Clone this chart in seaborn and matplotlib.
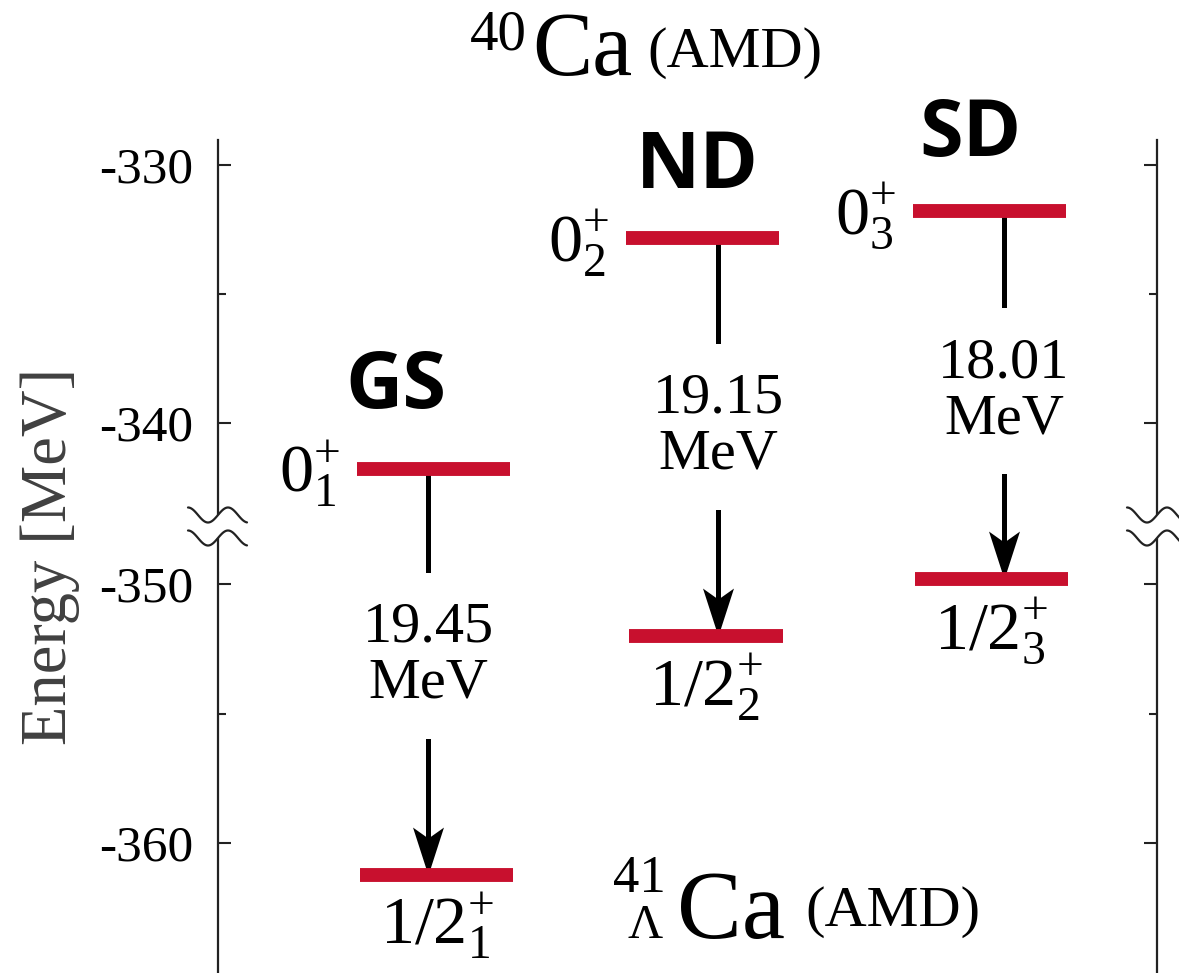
import numpy as np
import pandas as pd
import matplotlib
matplotlib.use("Agg")
import matplotlib.pyplot as plt
import seaborn as sns
from matplotlib.path import Path
from matplotlib.lines import Line2D
from matplotlib.patches import Rectangle
from matplotlib.transforms import IdentityTransform
from matplotlib.ticker import FixedLocator, StrMethodFormatter

# ---------------- data ----------------
configs = ["GS", "ND", "SD"]
core_spin = ["0", "0", "0"]
core_index = ["1", "2", "3"]
core_energy = [-341.78, -332.84, -331.80]      # 40Ca (AMD) [MeV]
hyper_spin = ["1/2", "1/2", "1/2"]
hyper_index = ["1", "2", "3"]
hyper_energy = [-361.23, -351.99, -349.81]     # 41_Lambda Ca (AMD) [MeV]
parity = "+"

major_ticks = [-330, -340, -350, -360]
minor_ticks = [-335, -355]

# ---------------- layout ----------------
W, H = 1179, 973
col_x_up = [0.2295, 0.5160, 0.8216]   # axes-fraction centres of the 40Ca levels
col_x_lo = [0.2327, 0.5197, 0.8237]   # centres of the hypernuclear levels
arrow_x = [0.2236, 0.5325, 0.8370]
label_lift = [16, 10, 4]              # px shift of the transition labels
BAR_HALF = 0.0815
RED = "#C8102E"
SERIF = ["Liberation Serif", "DejaVu Serif"]
BOLD = ["Open Sans", "DejaVu Sans"]

# broken energy axis: the window between these two values is cut out
BREAK_HI, BREAK_LO = -344.0, -347.77
GAP = BREAK_HI - BREAK_LO


def fwd(y):
    y = np.asarray(y, dtype=float)
    return np.where(y >= BREAK_HI, y, np.where(y <= BREAK_LO, y + GAP, BREAK_HI))


def inv(v):
    v = np.asarray(v, dtype=float)
    return np.where(v >= BREAK_HI, v, v - GAP)


sns.set_theme(style="ticks")
plt.rcParams.update({
    "font.family": SERIF,
    "axes.unicode_minus": False,
    "text.color": "black",
    "axes.labelcolor": "black",
    "ytick.color": "black",
    "ytick.labelcolor": "black",
    "mathtext.fontset": "custom",
    "mathtext.rm": "Liberation Serif",
    "mathtext.it": "Liberation Serif:italic",
    "mathtext.bf": "Liberation Serif:bold",
})

fig = plt.figure(figsize=(W / 100, H / 100), dpi=100)
fig.patch.set_facecolor("white")
ax = fig.add_axes([218 / W, 1 - 976 / H, 939 / W, 836 / H])
ax.set_facecolor("white")
ID = IdentityTransform()

# level bars
rows = []
for i, name in enumerate(configs):
    for tag, xc, e in (("core", col_x_up[i], core_energy[i]),
                       ("hyper", col_x_lo[i], hyper_energy[i])):
        for xx in (xc - BAR_HALF, xc + BAR_HALF):
            rows.append({"level": f"{name}-{tag}", "x": xx, "E": e})
levels = pd.DataFrame(rows)
sns.lineplot(data=levels, x="x", y="E", units="level", estimator=None,
             sort=False, color=RED, lw=10, solid_capstyle="butt",
             ax=ax, zorder=4, legend=False)

ax.set_yscale("function", functions=(fwd, inv))
ax.set_ylim(-365.15, -329.05)
ax.set_xlim(0, 1)
ax.set_xlabel("")
ax.set_ylabel("")
ax.set_xticks([])

ax.yaxis.set_major_locator(FixedLocator(major_ticks))
ax.yaxis.set_minor_locator(FixedLocator(minor_ticks))
ax.yaxis.set_major_formatter(StrMethodFormatter("{x:.0f}"))
ax.tick_params(axis="y", which="both", direction="in", left=True, right=True,
               labelleft=True, labelright=False, width=1.5, color="#222222",
               labelsize=37, pad=18, labelcolor="black")
ax.tick_params(axis="y", which="major", length=9.4)
ax.tick_params(axis="y", which="minor", length=5.8)
for t in ax.get_yticklabels():
    t.set_family(SERIF)
for side in ("top", "bottom"):
    ax.spines[side].set_visible(False)
for side in ("left", "right"):
    ax.spines[side].set_linewidth(1.6)
    ax.spines[side].set_color("#222222")

# arrows: shaft + concave head marker pointing down
head = Path([(0, 0), (-15.5, 48), (0, 37), (15.5, 48), (0, 0)],
            [Path.MOVETO, Path.LINETO, Path.LINETO, Path.LINETO, Path.CLOSEPOLY])
for i in range(len(configs)):
    ax.plot([arrow_x[i], arrow_x[i]], [core_energy[i], hyper_energy[i]],
            color="black", lw=3.6, solid_capstyle="butt", zorder=2)
    ax.plot([arrow_x[i]], [hyper_energy[i]], marker=head, markersize=69,
            color="black", markeredgewidth=0, zorder=3, linestyle="none")


def disp(x, e):
    return ax.transData.transform((x, e))


# transition energies in a white box that breaks the shaft
for i in range(len(configs)):
    xd, yu = disp(arrow_x[i], core_energy[i])
    _, yl = disp(arrow_x[i], hyper_energy[i])
    fig.text(xd, (yu + yl) / 2 + label_lift[i],
             f"{core_energy[i] - hyper_energy[i]:.2f}\nMeV",
             transform=ID, ha="center", va="center", fontsize=42,
             family=SERIF, linespacing=1.1, zorder=5,
             bbox=dict(boxstyle="square,pad=0.5", fc="white", ec="none"))


def state_text(spin, idx):
    return rf"$\mathrm{{{spin}}}_{{\mathrm{{{idx}}}}}^{{\mathrm{{{parity}}}}}$"


for i in range(len(configs)):
    xl, yc = disp(col_x_up[i] - BAR_HALF, core_energy[i])
    fig.text(xl - 17, yc - 23, state_text(core_spin[i], core_index[i]),
             transform=ID, ha="right", va="baseline", fontsize=49)
    xc, yc2 = disp(col_x_lo[i], hyper_energy[i])
    fig.text(xc, yc2 - 70, state_text(hyper_spin[i], hyper_index[i]),
             transform=ID, ha="center", va="baseline", fontsize=49)

# configuration tags
for name, (px, py) in zip(configs, [(396, 408), (697, 188), (970, 156)]):
    fig.text(px, H - py, name, transform=ID, ha="center", va="baseline",
             fontsize=57, family=BOLD, weight="bold", color="black")

# nucleus titles
fig.text(470, H - 50, "40", transform=ID, fontsize=41, family=SERIF, va="baseline")
fig.text(532, H - 75, "Ca", transform=ID, fontsize=65, family=SERIF, va="baseline")
fig.text(647, H - 67, "(AMD)", transform=ID, fontsize=42, family=SERIF, va="baseline")

fig.text(613, H - 892, "41", transform=ID, fontsize=38, family=SERIF, va="baseline")
fig.text(627, H - 938, "\u039b", transform=ID, fontsize=35, family=SERIF, va="baseline")
fig.text(677, H - 938, "Ca", transform=ID, fontsize=70, family=SERIF, va="baseline")
fig.text(805, H - 926, "(AMD)", transform=ID, fontsize=42, family=SERIF, va="baseline")

fig.text(50, H - 556, "Energy [MeV]", transform=ID, rotation=90, ha="center",
         va="center", fontsize=46.5, family=SERIF, color="#404040")

# axis break marks on both spines
for sx in (218, 1157):
    fig.add_artist(Rectangle((sx - 4, H - 538), 8, 23, transform=ID,
                             fc="white", ec="none", zorder=6))
    xs = np.linspace(sx - 30, sx + 29, 120)
    for yc in (515, 538):
        ys = (H - yc) + 7.5 * np.sin(2 * np.pi * (xs - sx) / 40)
        fig.add_artist(Line2D(xs, ys, transform=ID, color="#222222", lw=1.6,
                              zorder=7))

fig.savefig("out.png", dpi=100, facecolor="white")
